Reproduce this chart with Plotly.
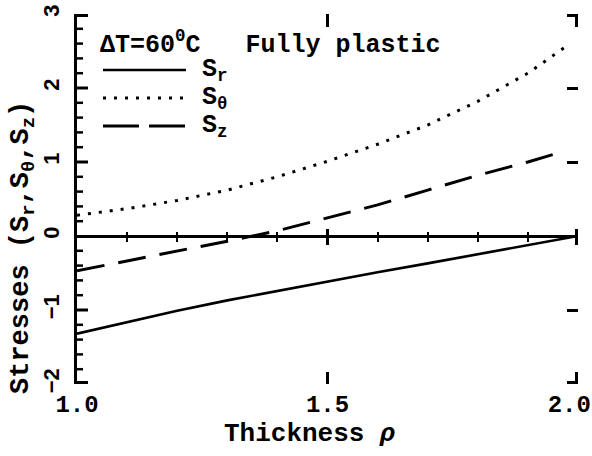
import plotly.graph_objects as go

# ---- data ----
rho = [1.0, 1.1, 1.2, 1.3, 1.4, 1.5, 1.6, 1.7, 1.8, 1.9, 2.0]
S_r = [-1.32, -1.16, -1.01, -0.87, -0.74, -0.61, -0.49, -0.37, -0.25, -0.12, 0.0]

rho_theta = [1.0, 1.1, 1.2, 1.3, 1.4, 1.5, 1.6, 1.7, 1.8, 1.9, 1.98]
S_theta = [0.28, 0.37, 0.48, 0.62, 0.80, 1.01, 1.24, 1.50, 1.82, 2.20, 2.58]

rho_z = [1.0, 1.1, 1.2, 1.3, 1.4, 1.5, 1.6, 1.7, 1.8, 1.9, 1.97]
S_z = [-0.47, -0.34, -0.21, -0.07, 0.07, 0.24, 0.42, 0.62, 0.82, 1.00, 1.14]

x_range = [1, 2]
y_range = [-2, 3]
x_ticks = [1.0, 1.5, 1.997]          # last tick nudged 1.5 px inside so plotly keeps it
x_ticktext = ["1.0", "1.5", "2.0\u00a0"]
y_major = [-1.98, -1, 1, 2, 2.98]
y_minor = [-1.8, -1.6, -1.4, -1.2, -0.8, -0.6, -0.4, -0.2, 0.2, 0.4, 0.6, 0.8,
           1.2, 1.4, 1.6, 1.8, 2.2, 2.4, 2.6, 2.8]
zero_minor = [1.1, 1.2, 1.3, 1.4, 1.6, 1.7, 1.8, 1.9]
series_names = ["S<sub>r</sub>", "S<sub>θ</sub>", "S<sub>z</sub>"]
x_title = "Thickness <i>ρ</i>"
y_title = "Stresses (S<sub>r</sub>,S<sub>θ</sub>,S<sub>z</sub>)"
box_title = "ΔT=60<sup>0</sup>C\u00a0\u00a0\u00a0Fully plastic"

MONO = "Liberation Mono"
SANS = "Liberation Sans"
K = "black"

fig = go.Figure()
fig.add_trace(go.Scatter(x=rho, y=S_r, mode="lines", xaxis="x", yaxis="y",
                         line=dict(color=K, width=2.6), showlegend=False))
fig.add_trace(go.Scatter(x=rho_theta, y=S_theta, mode="lines", xaxis="x2", yaxis="y2",
                         line=dict(color=K, width=3, dash="3px,8px"), showlegend=False))
fig.add_trace(go.Scatter(x=rho_z, y=S_z, mode="lines", xaxis="x3", yaxis="y",
                         line=dict(color=K, width=3, dash="28px,14px"), showlegend=False))
fig.add_trace(go.Scatter(x=rho, y=S_r, mode="lines", xaxis="x4", yaxis="y",
                         line=dict(color="rgba(0,0,0,0)", width=0), showlegend=False,
                         hoverinfo="skip"))

common_x = dict(range=x_range, showgrid=False, zeroline=False, fixedrange=True, automargin=False)
common_y = dict(range=y_range, showgrid=False, zeroline=False, fixedrange=True, automargin=False)

fig.update_layout(
    width=592, height=456,
    margin=dict(l=77, r=14, t=14, b=72),
    paper_bgcolor="white", plot_bgcolor="rgba(0,0,0,0)",
    xaxis=dict(**common_x, showline=False, ticks="inside", tickvals=x_ticks,
               ticktext=x_ticktext, ticklen=12, tickwidth=2.5, tickcolor=K,
               ticklabeloverflow="allow", ticklabelstandoff=3,
               tickfont=dict(family=MONO, size=24, color=K, weight="bold")),
    yaxis=dict(**common_y, showline=True, linewidth=3, linecolor=K,
               ticks="", tick0=-2, dtick=1,
               tickangle=-90, ticklabelstandoff=6, ticklabeloverflow="allow",
               tickfont=dict(family=SANS, size=22, color=K, weight="bold")),
    yaxis2=dict(**common_y, overlaying="y", side="right", anchor="x", showline=False,
                ticks="inside", tickvals=y_major, ticklen=11, tickwidth=3,
                tickcolor=K, showticklabels=False),
    xaxis2=dict(**common_x, overlaying="x", side="top", anchor="y", showline=False,
                ticks="inside", tickvals=[1.5, 1.997], ticklen=13, tickwidth=2.5,
                tickcolor=K, showticklabels=False),
    xaxis3=dict(**common_x, overlaying="x", side="bottom", anchor="free", position=0.4,
                showline=True, linewidth=2.5, linecolor=K,
                ticks="outside", tickvals=[1.5, 1.997], ticklen=7, tickwidth=2.5, tickcolor=K,
                minor=dict(ticks="outside", tickvals=zero_minor, ticklen=4, tickwidth=2, tickcolor=K),
                showticklabels=False),
    xaxis4=dict(**common_x, overlaying="x", side="bottom", anchor="free", position=0.4,
                showline=False,
                ticks="inside", tickvals=[1.5, 1.997], ticklen=7, tickwidth=2.5, tickcolor=K,
                minor=dict(ticks="inside", tickvals=zero_minor, ticklen=4, tickwidth=2, tickcolor=K),
                showticklabels=False),
)

# inward tick marks on the left spine, placed from the tick arrays on the y scale
for val in y_major:
    fig.add_shape(type="line", xref="x domain", yref="y", x0=0, x1=11 / 501, y0=val, y1=val,
                  line=dict(color=K, width=3), layer="above")
for val in y_minor:
    fig.add_shape(type="line", xref="x domain", yref="y", x0=0, x1=6 / 501, y0=val, y1=val,
                  line=dict(color=K, width=2.5), layer="above")

# ---- titles and hand-made legend block (paper coordinates) ----
def px_x(p):
    return (p - 77) / 501.0

def px_y(p):
    return (384 - p) / 370.0

fig.add_annotation(xref="paper", yref="paper", x=px_x(310), y=px_y(434),
                   xanchor="center", yanchor="middle", showarrow=False, text=x_title,
                   font=dict(family=MONO, size=26, color=K, weight="bold"))
fig.add_annotation(xref="paper", yref="paper", x=px_x(23), y=px_y(248),
                   xanchor="center", yanchor="middle", showarrow=False, text=y_title,
                   textangle=-90,
                   font=dict(family=MONO, size=27, color=K, weight="bold"))

legend_rows = [(70, "solid"), (98, "3px,8px"), (126, "36px,10px")]
for (yy, dash), name in zip(legend_rows, series_names):
    fig.add_shape(type="line", xref="paper", yref="paper",
                  x0=px_x(103), x1=px_x(186), y0=px_y(yy), y1=px_y(yy),
                  line=dict(color=K, width=3 if dash != "solid" else 2.6, dash=dash))
    fig.add_annotation(xref="paper", yref="paper", x=px_x(200), y=px_y(yy),
                       xanchor="left", yanchor="middle", showarrow=False, text=name,
                       font=dict(family=MONO, size=25, color=K, weight="bold"))

fig.add_annotation(xref="paper", yref="paper", x=px_x(98), y=px_y(43),
                   xanchor="left", yanchor="middle", showarrow=False, text=box_title,
                   font=dict(family=MONO, size=25, color=K, weight="bold"))

fig.write_html("out.html", config={"displayModeBar": False},
               post_script="document.body.style.margin='0px';document.body.style.overflow='hidden';")
